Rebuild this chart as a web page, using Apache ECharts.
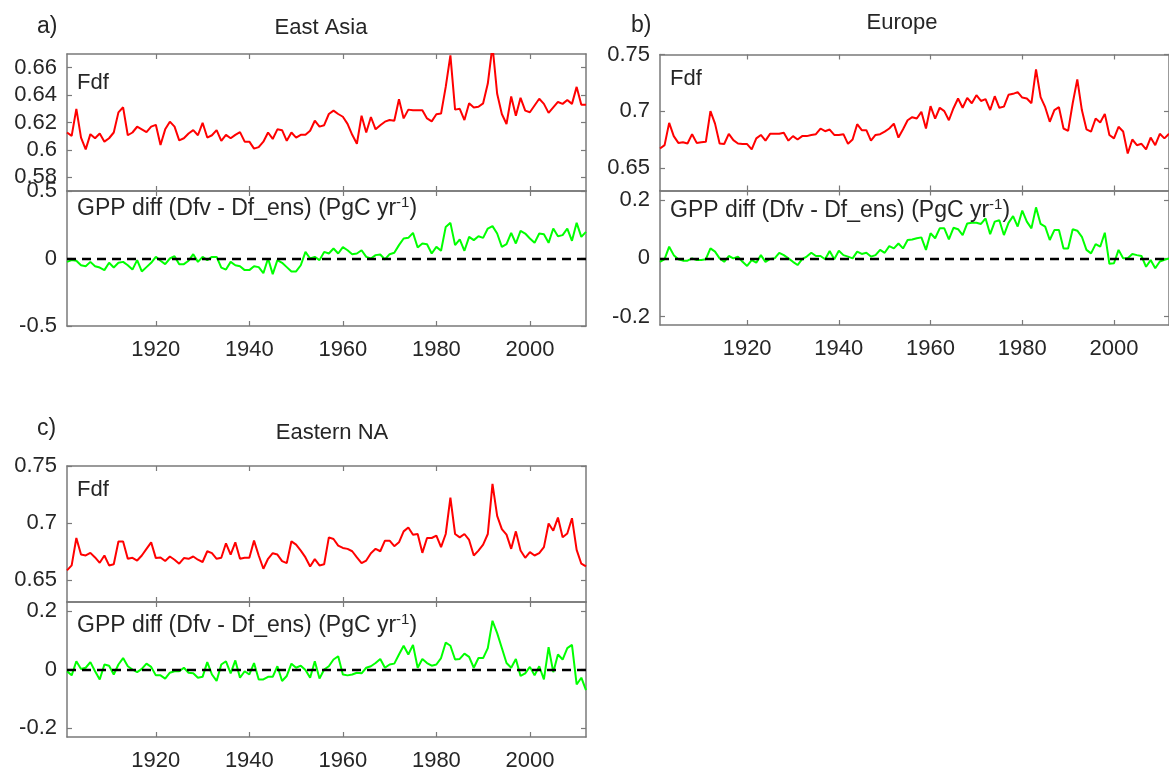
<!DOCTYPE html>
<html><head><meta charset="utf-8">
<script src="https://cdn.jsdelivr.net/npm/echarts@6/dist/echarts.min.js"></script>
<style>html,body{margin:0;padding:0;background:#fff}#c{width:1169px;height:772px}</style>
</head><body><div id="c"></div>
<script>
// ---- data (years 1901-2012) ----
const years = Array.from({length: 112}, (_, i) => 1901 + i);
const xTickYears = [1920, 1940, 1960, 1980, 2000];

const fdfEastAsia = [
 0.6127,0.6102,0.630,0.609,0.6004,0.6115,0.6085,0.612,0.606,0.6085,
 0.6127,0.6274,0.6311,0.6107,0.6127,0.6169,0.615,0.613,0.617,0.6183,
 0.6036,0.615,0.6206,0.617,0.607,0.6085,0.612,0.6144,0.6107,0.6198,
 0.609,0.6107,0.6144,0.6066,0.611,0.6085,0.611,0.613,0.606,0.606,
 0.6009,0.602,0.606,0.6127,0.608,0.615,0.6144,0.6066,0.6127,0.609,
 0.611,0.611,0.614,0.6213,0.617,0.618,0.6262,0.6287,0.6262,0.6242,
 0.619,0.611,0.6045,0.625,0.6127,0.624,0.615,0.618,0.6206,0.6218,
 0.6213,0.637,0.623,0.6294,0.629,0.629,0.629,0.623,0.6208,0.626,
 0.6265,0.646,0.669,0.6294,0.630,0.6218,0.634,0.631,0.6315,0.634,
 0.6484,0.676,0.641,0.6262,0.6189,0.639,0.625,0.638,0.6287,0.6275,
 0.6324,0.6373,0.6336,0.627,0.631,0.635,0.6336,0.6365,0.6336,0.646,
 0.633,0.633];
const gppEastAsia = [
 -0.025,-0.012,-0.017,-0.05,-0.057,-0.025,-0.057,-0.067,-0.086,-0.032,
 -0.067,-0.032,-0.025,-0.05,-0.082,-0.012,-0.096,-0.064,-0.032,0.012,
 -0.017,-0.042,0,0.017,-0.042,-0.042,-0.017,0.032,-0.025,0.012,
 -0.012,0.012,0.012,-0.067,-0.082,-0.025,-0.05,-0.057,-0.086,-0.086,
 -0.057,-0.064,-0.109,0,-0.116,-0.012,-0.032,-0.064,-0.096,-0.096,
 -0.05,0.049,0,0.012,-0.012,0.049,0.037,0.074,0.037,0.084,
 0.061,0.032,0.037,0.061,0.012,0,0.025,0.03,-0.007,0.032,
 0.042,0.099,0.148,0.153,0.19,0.081,0.111,0.106,0.037,0.086,
 0.057,0.234,0.264,0.099,0.141,0.057,0.16,0.136,0.165,0.153,
 0.222,0.24,0.185,0.086,0.106,0.19,0.111,0.205,0.185,0.148,
 0.116,0.185,0.18,0.116,0.222,0.165,0.173,0.222,0.131,0.264,
 0.16,0.197];

const fdfEurope = [
 0.667,0.670,0.6897,0.678,0.672,0.6726,0.6715,0.6797,0.672,0.6726,
 0.673,0.700,0.689,0.6715,0.671,0.680,0.6744,0.6715,0.671,0.671,
 0.6662,0.676,0.679,0.674,0.680,0.680,0.680,0.681,0.674,0.678,
 0.675,0.678,0.678,0.679,0.6797,0.6847,0.6823,0.6838,0.679,0.679,
 0.6797,0.6712,0.675,0.6885,0.6832,0.6832,0.674,0.679,0.6797,0.682,
 0.6847,0.689,0.6767,0.684,0.692,0.6947,0.6935,0.6994,0.6847,0.7044,
 0.6935,0.703,0.700,0.692,0.7026,0.7112,0.703,0.7118,0.707,0.7141,
 0.709,0.7106,0.701,0.7132,0.703,0.704,0.7144,0.7153,0.7168,0.712,
 0.7112,0.707,0.7368,0.7124,0.7035,0.6906,0.701,0.7035,0.6847,0.6826,
 0.707,0.728,0.701,0.684,0.682,0.6935,0.690,0.6976,0.679,0.676,
 0.6862,0.682,0.6627,0.675,0.670,0.6712,0.6662,0.6767,0.670,0.680,
 0.676,0.680];
const gppEurope = [
 -0.012,-0.003,0.040,0.011,-0.003,-0.008,-0.008,0,-0.006,-0.006,
 -0.003,0.034,0.023,0,-0.012,0.008,0,0.006,-0.012,-0.026,
 -0.006,-0.015,0.011,-0.012,-0.002,0,0.019,0.011,0,-0.012,
 -0.023,-0.003,0.006,0.019,0.008,0.008,-0.003,0.025,-0.003,0.026,
 0.011,0.006,0,0.023,0.015,0.019,0.006,0.011,0.029,0.019,
 0.042,0.034,0.051,0.034,0.063,0.065,0.069,0.072,0.029,0.086,
 0.069,0.103,0.103,0.065,0.105,0.10,0.08,0.12,0.122,0.122,
 0.118,0.137,0.083,0.126,0.131,0.08,0.122,0.145,0.109,0.164,
 0.126,0.103,0.175,0.118,0.109,0.063,0.097,0.097,0.034,0.034,
 0.10,0.095,0.074,0.029,0.017,0.049,0.04,0.088,-0.019,-0.017,
 0.029,0,0,0.015,0.011,0.008,-0.029,-0.006,-0.034,-0.011,
 -0.005,0.0];

const fdfEasternNA = [
 0.6587,0.663,0.687,0.6725,0.6717,0.674,0.670,0.6653,0.6717,0.663,
 0.664,0.684,0.684,0.6688,0.6697,0.6673,0.6717,0.6775,0.6832,0.6694,
 0.670,0.6668,0.6708,0.668,0.6645,0.6694,0.6688,0.6708,0.668,0.666,
 0.6754,0.6737,0.6688,0.6697,0.6824,0.6725,0.6832,0.6688,0.6697,0.6697,
 0.6847,0.6717,0.6601,0.6688,0.6737,0.6725,0.6668,0.665,0.6841,0.6812,
 0.676,0.670,0.6621,0.6685,0.663,0.664,0.6876,0.6861,0.6803,0.6783,
 0.6775,0.6754,0.670,0.665,0.6673,0.6737,0.6775,0.6754,0.6847,0.6847,
 0.6798,0.6832,0.6928,0.6962,0.6899,0.6905,0.674,0.687,0.687,0.689,
 0.679,0.6905,0.7223,0.6905,0.6876,0.6905,0.6853,0.6717,0.676,0.6812,
 0.6905,0.7344,0.7064,0.6948,0.6899,0.6775,0.6928,0.676,0.6697,0.6746,
 0.6717,0.6737,0.679,0.6997,0.6934,0.7049,0.6876,0.691,0.7043,0.6766,
 0.6645,0.6621];
const gppEasternNA = [
 -0.006,-0.02,0.028,0.002,0.006,0.025,-0.006,-0.034,0.017,0.013,
 -0.017,0.017,0.039,0.011,0,-0.009,0.002,0.02,0.009,-0.02,
 -0.02,-0.031,-0.011,-0.006,-0.006,0.006,-0.011,-0.013,-0.028,-0.025,
 0.025,-0.017,-0.039,0.017,0.028,-0.013,0.031,-0.028,-0.006,-0.017,
 0.022,-0.034,-0.034,-0.025,-0.025,0.011,-0.039,-0.022,0.02,0.006,
 0.013,-0.002,-0.028,0.028,-0.031,0,0.011,0.034,0.045,-0.017,
 -0.02,-0.017,-0.011,-0.013,0.006,0.011,0.022,0.036,0.006,0.017,
 0.02,0.051,0.081,0.051,0.084,0.006,0.036,0.022,0.013,0.017,
 0.039,0.092,0.081,0.034,0.036,0.054,0.043,0.006,0.039,0.039,
 0.073,0.166,0.124,0.073,0.022,0.006,0.036,-0.022,-0.013,0.009,
 -0.02,0.011,-0.034,0.076,-0.009,0.051,0.034,0.073,0.084,-0.051,
 -0.028,-0.07];

const fdfTicksEastAsia = [0.58, 0.6, 0.62, 0.64, 0.66];
const gppTicksEastAsia = [-0.5, 0, 0.5];
const fdfTicks = [0.65, 0.7, 0.75];
const gppTicks = [-0.2, 0, 0.2];

// ---- layout / style ----
const TXT = '#262626', AX = '#7a7a7a';
const FONT = "'Liberation Sans', Arial, Helvetica, sans-serif";
const RED = '#ff0000', GREEN = '#00ff00';

const panels = [
  {box:[67, 54, 519, 137], range:[0.57, 0.67], ticks:fdfTicksEastAsia, vals:fdfEastAsia, color:RED, xl:false},
  {box:[67, 191, 519, 135], range:[-0.5, 0.5], ticks:gppTicksEastAsia, vals:gppEastAsia, color:GREEN, xl:true, zero:true},
  {box:[660, 54.5, 518, 136], range:[0.63, 0.75], ticks:fdfTicks, vals:fdfEurope, color:RED, xl:false},
  {box:[660, 190.5, 518, 134.5], range:[-0.229, 0.233], ticks:gppTicks, vals:gppEurope, color:GREEN, xl:true, zero:true},
  {box:[67, 466, 519, 136], range:[0.631, 0.75], ticks:fdfTicks, vals:fdfEasternNA, color:RED, xl:false},
  {box:[67, 602, 519, 136.5], range:[-0.23, 0.23], ticks:gppTicks, vals:gppEasternNA, color:GREEN, xl:true, zero:true}
];

const grid = [], xAxis = [], yAxis = [], series = [];
const axLine = {show:true, onZero:false, lineStyle:{color:AX, width:1.5}};
const zeroStyle = {color:'#000', type:[9,6], width:2.4};
panels.forEach((p, i) => {
  grid.push({left:p.box[0], top:p.box[1], width:p.box[2], height:p.box[3], containLabel:false});
  const xt = {show:true, inside:true, length:5, customValues:xTickYears, lineStyle:{color:AX, width:1.2}};
  xAxis.push({type:'value', gridIndex:i, min:1901, max:2012, position:'bottom',
    axisLine:axLine, axisTick:xt, splitLine:{show:false},
    axisLabel:{show:p.xl, customValues:xTickYears, margin:13, color:TXT, fontSize:22, fontFamily:FONT,
      formatter:(v) => String(Math.round(v))}});
  xAxis.push({type:'value', gridIndex:i, min:1901, max:2012, position:'top',
    axisLine:axLine, axisTick:xt, splitLine:{show:false}, axisLabel:{show:false}});
  const yt = {show:true, inside:true, length:5, customValues:p.ticks, lineStyle:{color:AX, width:1.2}};
  yAxis.push({type:'value', gridIndex:i, min:p.range[0], max:p.range[1], position:'left',
    axisLine:axLine, axisTick:yt, splitLine:{show:false},
    axisLabel:{show:true, customValues:p.ticks, margin:10, color:TXT, fontSize:22, fontFamily:FONT}});
  yAxis.push({type:'value', gridIndex:i, min:p.range[0], max:p.range[1], position:'right',
    axisLine:axLine, axisTick:yt, splitLine:{show:false}, axisLabel:{show:false}});
  const s = {type:'line', xAxisIndex:2*i, yAxisIndex:2*i, clip:true, showSymbol:false, symbol:'none',
    data: years.map((yr, k) => [yr, p.vals[k]]),
    lineStyle:{color:p.color, width:2}, itemStyle:{color:p.color}, silent:true, z:2};
  if (p.zero) {
    s.markLine = {silent:true, symbol:['none','none'], label:{show:false}, animation:false,
      lineStyle:zeroStyle, emphasis:{disabled:true},
      data:[{yAxis:0, lineStyle:zeroStyle}], z:3};
  }
  series.push(s);
});

function txt(x, y, text, size, align) {
  return {type:'text', x:x, y:y, silent:true, z:10,
    style:{text:text, fill:TXT, fontSize:size, fontFamily:FONT, textAlign:align||'left', textVerticalAlign:'middle'}};
}
function gppLabel(x, y) {
  return {type:'text', x:x, y:y, silent:true, z:10,
    style:{text:'{a|GPP diff (Dfv - Df_ens) (PgC yr}{s|-1}{a|)}', textAlign:'left', textVerticalAlign:'middle',
      rich:{a:{fontSize:23, fontFamily:FONT, fill:TXT, color:TXT, lineHeight:27, verticalAlign:'middle'},
            s:{fontSize:15, fontFamily:FONT, fill:TXT, color:TXT, lineHeight:15, verticalAlign:'top'}}}};
}

const graphic = [
  txt(37, 27, 'a)', 23), txt(321, 28, 'East Asia', 22, 'center'),
  txt(631, 26, 'b)', 23), txt(902, 23, 'Europe', 22, 'center'),
  txt(37, 429, 'c)', 23), txt(332, 433, 'Eastern NA', 22, 'center'),
  txt(77, 83, 'Fdf', 22), txt(670, 79, 'Fdf', 22), txt(77, 490, 'Fdf', 22),
  gppLabel(77, 209), gppLabel(670, 211), gppLabel(77, 626)
];

const chart = echarts.init(document.getElementById('c'), null, {renderer:'canvas'});
chart.setOption({backgroundColor:'#fff', animation:false, grid, xAxis, yAxis, series, graphic});
</script></body></html>
